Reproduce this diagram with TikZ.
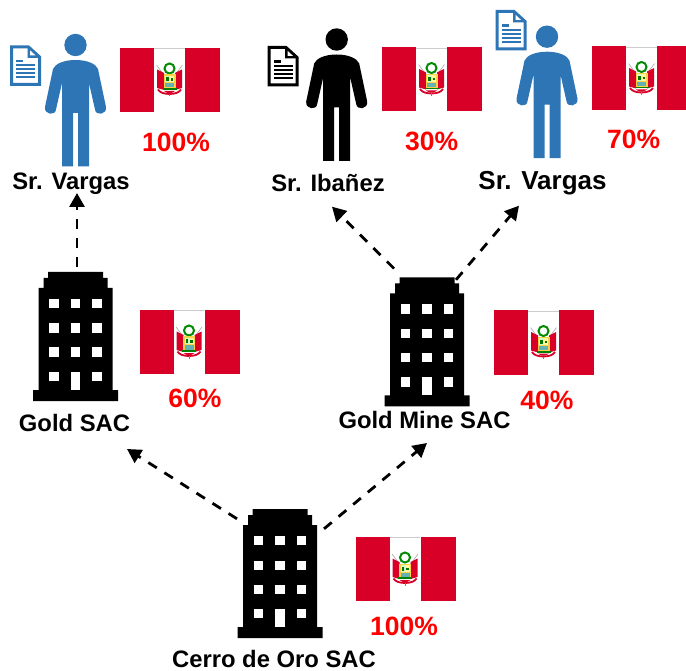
\documentclass[tikz,border=0pt]{standalone}
\usepackage{fontspec}
\setmainfont{Liberation Sans}
\usetikzlibrary{arrows.meta}
\definecolor{peruRed}{HTML}{D90027}
\definecolor{docBlue}{HTML}{2E75B6}
\definecolor{pctRed}{HTML}{FF0000}
\tikzset{
  person/.pic={
    \fill[pic actions] (0,0) circle (11.2);
    \fill[pic actions] (0,15) .. controls (12,15) and (20.5,19) .. (22.5,24)
      -- (30.5,62) .. controls (31.5,70) and (20,71) .. (19.5,64.5)
      -- (13.5,38) -- (13.5,121.5) -- (2.5,121.5) -- (2.5,68) -- (-2.5,68)
      -- (-2.5,121.5) -- (-13.5,121.5) -- (-13.5,38) -- (-19.5,64.5)
      .. controls (-20,71) and (-31.5,70) .. (-30.5,62)
      -- (-22.5,24) .. controls (-20.5,19) and (-12,15) .. (0,15) -- cycle;
  },
  doc/.pic={
    \draw[pic actions,line width=3pt,fill=none,line join=miter]
      (1.5,1.5) -- (18.5,1.5) -- (29.5,11.5) -- (29.5,39) -- (1.5,39) -- cycle;
    \fill[pic actions,draw=none] (17.5,1) -- (19.5,1) -- (30.5,11) -- (30.5,12.5) -- (17.5,12.5) -- cycle;
    \fill[white,draw=none] (20,4.8) -- (20,10) -- (25.6,10) -- cycle;
    \fill[pic actions,draw=none] (6,14.5) rectangle (13,16.8);
    \foreach \yy in {19,23,27,31} {
      \fill[pic actions,draw=none] (6,\yy) rectangle (25,\yy+1.9);
    }
  },
  building/.pic={
    \fill[black] (-27.5,0) -- (27.5,0) -- (27.5,6) -- (32,6) -- (32,16) -- (37,16)
      -- (37,118) -- (42.5,118) -- (42.5,129) -- (-42.5,129) -- (-42.5,118) -- (-37,118)
      -- (-37,16) -- (-32,16) -- (-32,6) -- (-27.5,6) -- cycle;
    \foreach \yy in {27,51.5,75.5,100} {
      \fill[white] (-26.5,\yy) rectangle (-17,\yy+9.3);
      \fill[white] (16.8,\yy) rectangle (26.3,\yy+9.3);
    }
    \foreach \yy in {27,51.5,75.5} {
      \fill[white] (-4.6,\yy) rectangle (4.6,\yy+9.3);
    }
    \fill[white] (-4.6,100) rectangle (4.6,118);
  },
  peruflag/.pic={
    \fill[peruRed] (0,0) rectangle (34,64);
    \fill[peruRed] (65,0) rectangle (100,64);
    \draw[gray!40,line width=0.5pt] (34.2,0.3) -- (64.8,0.3);
    \draw[gray!70,line width=0.6pt] (36.5,17) -- (44,27);
    \draw[gray!70,line width=0.6pt] (62.5,17) -- (55,27);
    \fill[peruRed] (37,21.5) -- (44,25) -- (44,42) -- (37,40) -- cycle;
    \fill[peruRed] (62,21.5) -- (55,25) -- (55,42) -- (62,40) -- cycle;
    \draw[green!55!black,line width=2pt] (49.5,20.5) circle (5);
    \fill[yellow!55!orange!70!white] (43.5,26.5) rectangle (55.5,41);
    \fill[white!80!green] (45,28) rectangle (49.5,34.5);
    \fill[green!45!black] (46.2,29.5) rectangle (48.6,33.5);
    \fill[yellow!40!white] (49.5,28) rectangle (54,34.5);
    \fill[green!45!black] (50.5,30.5) rectangle (53,33);
    \fill[teal!60!white] (45,35.5) rectangle (54,39.5);
    \fill[green!50!black] (42.5,40.4) rectangle (56.5,42);
    \draw[peruRed,line width=1.8pt] (38,41.5) .. controls (41,47.5) and (58,47.5) .. (61,41.5);
    \fill[peruRed] (44,43) .. controls (47,46) and (52,46) .. (55,43) -- cycle;
    \draw[orange!70!peruRed,line width=1pt] (49.5,46) -- (49.5,48.5);
  },
  blabel/.style={anchor=base,inner sep=0pt,font=\bfseries\fontsize{23.8}{28}\selectfont,text=black},
  pct/.style={anchor=base,inner sep=0pt,font=\bfseries\fontsize{26.5}{30}\selectfont,text=pctRed},
  bbox/.style={inner sep=0pt,minimum width=85pt,minimum height=129pt},
  conn/.style={-{Triangle[length=14pt,width=15pt]},line width=2.8pt,dash pattern=on 10pt off 9pt,black},
}
\begin{document}
\begin{tikzpicture}[x=1pt,y=-1pt]
\useasboundingbox (0,0) rectangle (686,671);
\begin{scope}
\clip (0,0) rectangle (686,671);
% persons and documents
\pic[fill=docBlue] at (75.5,45) {person};
\pic[fill=black] at (336.7,39.5) {person};
\pic[fill=docBlue] at (547,36.7) {person};
\pic[fill=docBlue,draw=docBlue] at (10,45.5) {doc};
\pic[fill=black,draw=black] at (267.5,46) {doc};
\pic[fill=docBlue,draw=docBlue] at (495.5,10) {doc};
% flags
\pic at (120,48) {peruflag};
\pic at (382,47.5) {peruflag};
\pic at (592,46.5) {peruflag};
\pic at (139.5,310) {peruflag};
\pic at (494,310.5) {peruflag};
\pic at (355.5,537) {peruflag};
% buildings
\pic at (75.5,272) {building};
\pic at (427,277.3) {building};
\pic at (280,509) {building};
\end{scope}
\node[bbox] (bGold) at (75.5,336.5) {};
\node[bbox] (bMine) at (427,341.8) {};
\node[bbox] (bCerro) at (280,573.5) {};
% labels
\node[blabel] (lVargasA) at (71,190) {Sr. Vargas};
\node[blabel] (lIbanez) at (328,191.7) {Sr. Ibañez};
\node[blabel,font=\bfseries\fontsize{26}{30}\selectfont] (lVargasB) at (542.5,189.5) {Sr. Vargas};
\node[blabel] (lGold) at (74.5,431.7) {Gold SAC};
\node[blabel] (lMine) at (424.5,428) {Gold Mine SAC};
\node[blabel] (lCerro) at (274,667) {Cerro de Oro SAC};
\node[pct] (pA) at (176,151.7) {100\%};
\node[pct] (pB) at (431.7,150.7) {30\%};
\node[pct] (pC) at (633.7,148.3) {70\%};
\node[pct] (pD) at (195,407.3) {60\%};
\node[pct] (pE) at (547,409.3) {40\%};
\node[pct] (pF) at (404,635) {100\%};
% connectors
\draw[conn] ([shift={(1.5,-5)}]bGold.north) -- ([shift={(6,3)}]lVargasA.base);
\draw[conn] ([shift={(-33,-8.6)}]bMine.north) -- ([shift={(4,15)}]lIbanez.base);
\draw[conn] ([shift={(29,2.7)}]bMine.north) -- ([shift={(-23.5,16.2)}]lVargasB.base);
\draw[conn] ([shift={(-43,10)}]bCerro.north) -- ([shift={(52.5,17.3)}]lGold.base);
\draw[conn] ([shift={(44,20)}]bCerro.north) -- ([shift={(2.5,15)}]lMine.base);
\end{tikzpicture}
\end{document}
